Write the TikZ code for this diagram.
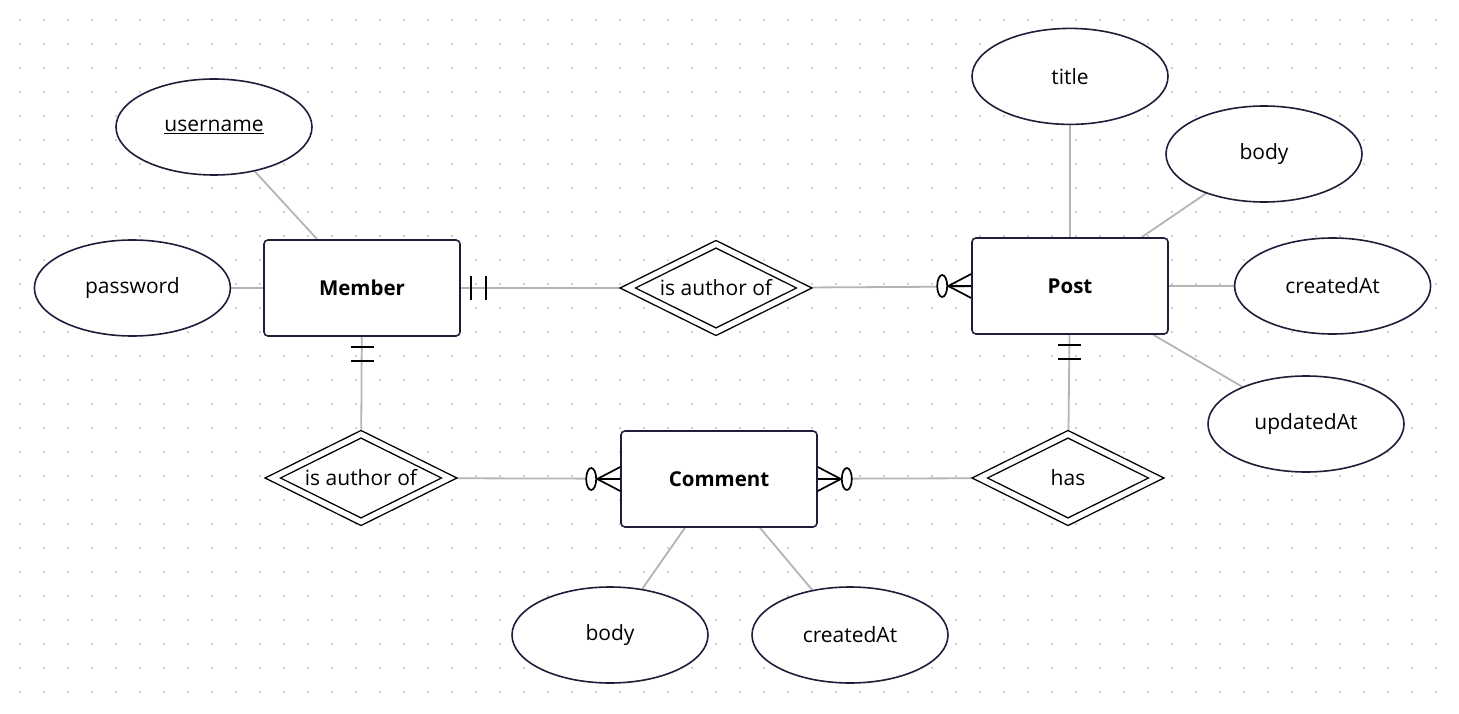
\documentclass[tikz,border=0pt]{standalone}
\usepackage{fontspec}
\setmainfont{Open Sans}
\usetikzlibrary{shapes.geometric, positioning, calc, backgrounds}
\definecolor{inkline}{HTML}{1E1E3A}
\definecolor{linkgray}{HTML}{B4B4B4}
\definecolor{dotgray}{HTML}{BDBDBD}

\begin{document}
\begin{tikzpicture}[x=1pt, y=-1pt, node distance=30pt, font=\fontsize{21}{24}\selectfont]
        \tikzstyle{entity} = [draw=inkline, fill=white, rectangle, line width=1.6pt, rounded corners=4pt, minimum width=196pt, minimum height=96pt, font=\fontsize{20.5}{24}\selectfont\bfseries]
        \tikzstyle{attrib} = [draw=inkline, fill=white, ellipse, line width=1.6pt, minimum width=196pt, minimum height=96pt, inner sep=0pt]
        \tikzstyle{relbox} = [draw=black, fill=white, double=white, double distance=5.3pt, diamond, shape aspect=2, line width=1.4pt, minimum width=177pt, minimum height=88pt, inner sep=0pt]
        \tikzstyle{link} = [draw=linkgray, line width=1.8pt]
        \tikzstyle{cardmark} = [draw=black, line width=1.7pt]

        \useasboundingbox (0,0) rectangle (1459,714);

        % entities
        \node[entity] (member) at (362,288) {Member};
        \node[entity] (post) at (1070,286) {Post};
        \node[entity] (comment) at (719,479) {Comment};

        % relationships
        \node[relbox] (authpost) at (716,288) {is author of};
        \node[relbox] (authcomment) at (361,478) {is author of};
        \node[relbox] (has) at (1068,478) {has};

        % attributes
        \node[attrib] (username) at (214,127) {\underline{username}};
        \node[attrib, left=32pt of member] (password) {password};
        \node[attrib, above=112pt of post] (title) {title};
        \node[attrib] (postbody) at (1264,154) {body};
        \node[attrib, right=65pt of post] (postcreated) {createdAt};
        \node[attrib] (postupdated) at (1306,424) {updatedAt};
        \node[attrib] (combody) at (610,635) {body};
        \node[attrib] (comcreated) at (850,635) {createdAt};

        \begin{scope}[on background layer]
            \foreach \gx in {20,44,...,1436}
                \foreach \gy in {20,44,...,692}
                    \fill[dotgray] (\gx,\gy) circle (1.1pt);

            \draw[link] (username) -- (member);
            \draw[link] (password) -- (member);
            \draw[link] (title) -- (post);
            \draw[link] (postbody) -- (post);
            \draw[link] (postcreated) -- (post);
            \draw[link] (postupdated) -- (post);
            \draw[link] (combody) -- (comment);
            \draw[link] (comcreated) -- (comment);

            \draw[link] (member) -- (authpost);
            \draw[link] (authpost) -- (post);
            \draw[link] (member) -- (authcomment);
            \draw[link] (authcomment) -- (comment);
            \draw[link] (comment) -- (has);
            \draw[link] (post) -- (has);
        \end{scope}

        % one and only one
        \draw[cardmark] ($(member.east)+(10,-12)$) -- +(0,24);
        \draw[cardmark] ($(member.east)+(25,-12)$) -- +(0,24);
        \draw[cardmark] ($(member.south)+(-11,10)$) -- +(23,0);
        \draw[cardmark] ($(member.south)+(-11,24)$) -- +(23,0);
        \draw[cardmark] ($(post.south)+(-12,10)$) -- +(23,0);
        \draw[cardmark] ($(post.south)+(-12,24)$) -- +(23,0);

        % zero or many
        \draw[cardmark] ($(post.west)+(0,-12)$) -- ($(post.west)+(-23,0)$) -- ($(post.west)+(0,12)$);
        \draw[cardmark] (post.west) -- +(-23,0);
        \draw[cardmark, fill=white] ($(post.west)+(-29,0)$) ellipse (5pt and 11pt);

        \draw[cardmark] ($(comment.west)+(0,-12)$) -- ($(comment.west)+(-23,0)$) -- ($(comment.west)+(0,12)$);
        \draw[cardmark] (comment.west) -- +(-23,0);
        \draw[cardmark, fill=white] ($(comment.west)+(-29,0)$) ellipse (5pt and 11pt);

        \draw[cardmark] ($(comment.east)+(0,-12)$) -- ($(comment.east)+(23,0)$) -- ($(comment.east)+(0,12)$);
        \draw[cardmark] (comment.east) -- +(23,0);
        \draw[cardmark, fill=white] ($(comment.east)+(29,0)$) ellipse (5pt and 11pt);
    \end{tikzpicture}
\end{document}
